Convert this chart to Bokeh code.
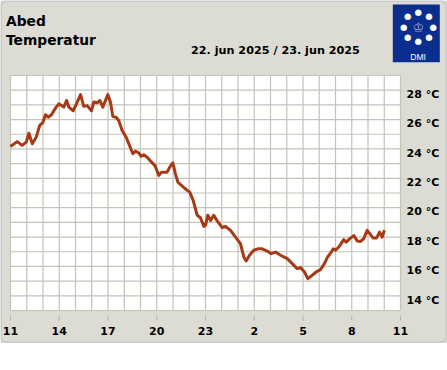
from bokeh.plotting import figure
from bokeh.models import Label, BoxAnnotation
from bokeh.embed import file_html
from bokeh.resources import INLINE

# ---- data (hours since 22 jun 00:00, temperature in °C) ----
hours = [11.00, 11.41, 11.72, 11.97, 12.13, 12.34, 12.58, 12.80, 12.99, 13.15,
         13.32, 13.52, 13.77, 13.97, 14.28, 14.45, 14.59, 14.86, 15.06, 15.31,
         15.51, 15.72, 15.98, 16.13, 16.34, 16.50, 16.68, 16.99, 17.15, 17.30,
         17.50, 17.66, 17.87, 18.12, 18.32, 18.53, 18.69, 18.90, 19.04, 19.20,
         19.41, 19.68, 19.88, 20.13, 20.29, 20.64, 20.80, 20.99, 21.15, 21.30,
         21.57, 21.87, 22.03, 22.24, 22.49, 22.69, 22.90, 23.00, 23.14, 23.31,
         23.51, 23.72, 24.03, 24.23, 24.54, 24.85, 25.15, 25.36, 25.50, 25.71,
         25.97, 26.22, 26.49, 26.80, 27.04, 27.31, 27.62, 28.03, 28.34, 28.64,
         28.85, 29.09, 29.30, 29.57, 29.87, 30.08, 30.32, 30.49, 30.74, 30.86,
         31.00, 31.20, 31.51, 31.66, 31.88, 32.13, 32.34, 32.54, 32.74, 32.95,
         33.11, 33.32, 33.52, 33.71, 33.87, 34.01]
temps = [24.17, 24.50, 24.24, 24.46, 25.07, 24.35, 24.80, 25.60, 25.80, 26.33,
         26.16, 26.33, 26.78, 27.07, 26.85, 27.30, 26.85, 26.60, 27.07, 27.70,
         26.90, 26.95, 26.60, 27.20, 27.14, 27.30, 26.85, 27.70, 27.20, 26.20,
         26.16, 25.94, 25.26, 24.80, 24.24, 23.67, 23.85, 23.72, 23.50, 23.60,
         23.44, 23.10, 22.88, 22.20, 22.42, 22.42, 22.76, 23.06, 22.30, 21.74,
         21.47, 21.18, 21.06, 20.50, 19.48, 19.32, 18.73, 18.80, 19.48, 19.14,
         19.48, 19.10, 18.64, 18.73, 18.46, 18.00, 17.55, 16.64, 16.37, 16.76,
         17.10, 17.20, 17.20, 17.05, 16.87, 16.98, 16.76, 16.53, 16.19, 15.85,
         15.92, 15.62, 15.17, 15.40, 15.67, 15.78, 16.19, 16.60, 16.98, 17.20,
         17.10, 17.32, 17.82, 17.66, 17.89, 18.10, 17.73, 17.70, 17.89, 18.46,
         18.23, 17.93, 17.93, 18.34, 18.00, 18.46]

x_ticks = [11, 14, 17, 20, 23, 26, 29, 32, 35]
x_tick_labels = ["11", "14", "17", "20", "23", "2", "5", "8", "11"]
y_ticks = [14, 16, 18, 20, 22, 24, 26, 28]
y_tick_labels = ["14 °C", "16 °C", "18 °C", "20 °C", "22 °C", "24 °C", "26 °C", "28 °C"]
hour_grid = list(range(11, 36))
degree_grid = list(range(13, 30))
station = "Abed"
parameter = "Temperatur"
date_text = "22. jun 2025 / 23. jun 2025"
logo_text = "DMI"

# ---- layout (pixels) ----
W, H = 447, 343
PL, PR, PT, PB = 10, 400, 75, 310          # plot-area edges on the canvas
x0, x1 = hour_grid[0], hour_grid[-1]
y0, y1 = degree_grid[0], degree_grid[-1]
pph = (PR - PL) / (x1 - x0)                 # pixels per hour
ppd = (PB - PT) / (y1 - y0)                 # pixels per degree

PANEL = "#dddcd4"
GRID = "#c3c3b8"
LINE = "#a63a17"
BLUE = "#0b2d8d"
FONT = "DejaVu Sans"

p = figure(width=W, height=H,
           x_range=(x0 - PL / pph, x1 + (W - PR) / pph),
           y_range=(y0 - (H - PB) / ppd, y1 + PT / ppd),
           output_backend="svg", toolbar_location=None,
           x_axis_location=None, y_axis_location=None,
           min_border=0, min_border_left=0, min_border_right=0,
           min_border_top=0, min_border_bottom=0)
p.background_fill_color = PANEL
p.border_fill_color = PANEL
p.outline_line_color = None
p.grid.visible = False

# plot area and hour / degree grid
p.quad(left=[x0], right=[x1], bottom=[y0], top=[y1], fill_color="white", line_color=None)
p.segment(x0=hour_grid, y0=[y0] * len(hour_grid), x1=hour_grid, y1=[y1] * len(hour_grid),
          line_color=GRID, line_width=1.2)
p.segment(x0=[x0] * len(degree_grid), y0=degree_grid, x1=[x1] * len(degree_grid), y1=degree_grid,
          line_color=GRID, line_width=1.2)

# x tick marks and labels
p.segment(x0=x_ticks, y0=[y0 - 5 / ppd] * len(x_ticks), x1=x_ticks, y1=[y0 - 10 / ppd] * len(x_ticks),
          line_color="#b3b3ab", line_width=1)
p.text(x=x_ticks, y=[y0] * len(x_ticks), text=x_tick_labels, y_offset=20,
       text_font={"value": FONT}, text_font_style="bold", text_font_size="11px",
       text_color="black", text_align="center", text_baseline="alphabetic")
# y labels (right side)
p.text(x=[x1] * len(y_ticks), y=y_ticks, text=y_tick_labels, x_offset=6, y_offset=4.3,
       text_font={"value": FONT}, text_font_style="bold", text_font_size="11px",
       text_color="black", text_align="left", text_baseline="alphabetic")

# temperature line
p.line(hours, temps, line_color=LINE, line_width=3, line_join="round")


def sy(cy):
    return H - cy


# panel border
p.add_layout(BoxAnnotation(left=0.75, right=W - 1.25, top=sy(0.75), bottom=sy(H - 1.25),
                           left_units="screen", right_units="screen", top_units="screen", bottom_units="screen",
                           fill_color=None, line_color="#8fa7bb", line_width=1.5, border_radius=5))

# titles
p.add_layout(Label(x=5.5, y=sy(20), x_units="screen", y_units="screen", text=station,
                   text_font=FONT, text_font_style="bold", text_font_size="13.8px", text_color="black",
                   text_baseline="alphabetic"))
p.add_layout(Label(x=5.5, y=sy(39.3), x_units="screen", y_units="screen", text=parameter,
                   text_font=FONT, text_font_style="bold", text_font_size="13.8px", text_color="black",
                   text_baseline="alphabetic"))
p.add_layout(Label(x=190.5, y=sy(50), x_units="screen", y_units="screen", text=date_text,
                   text_font=FONT, text_font_style="bold", text_font_size="11.2px",
                   text_color="black", text_baseline="alphabetic"))

# DMI logo
p.add_layout(BoxAnnotation(left=392.3, right=439.3, top=sy(4), bottom=sy(61.7),
                           left_units="screen", right_units="screen", top_units="screen", bottom_units="screen",
                           fill_color=BLUE, fill_alpha=1, line_color=None))
dots = [(407.3, 15.7), (417.8, 11.3), (428.4, 15.7), (403.3, 26.0), (432.6, 26.0),
        (407.3, 36.3), (417.8, 40.7), (428.4, 36.3)]
for dx, dy in dots:
    p.add_layout(Label(x=dx, y=sy(dy), x_units="screen", y_units="screen", text="●",
                       text_font=FONT, text_font_size="8.5px", text_color="white",
                       text_align="center", text_baseline="middle"))
p.add_layout(Label(x=417.8, y=sy(26.5), x_units="screen", y_units="screen", text="♔",
                   text_font=FONT, text_font_size="13px", text_color="#93a6dd",
                   text_align="center", text_baseline="middle"))
p.add_layout(Label(x=417.6, y=sy(56.7), x_units="screen", y_units="screen", text=logo_text,
                   text_font="Liberation Sans", text_font_size="8.6px", text_color="white",
                   text_align="center", text_baseline="alphabetic"))

open("out.html", "w").write(file_html(p, INLINE))
